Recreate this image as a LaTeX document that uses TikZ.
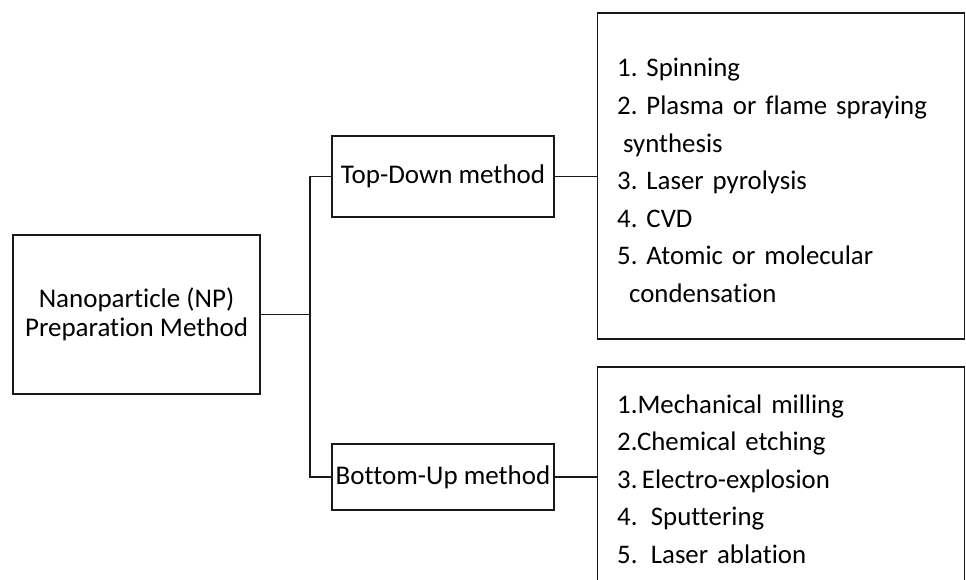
\documentclass[tikz,border=0pt]{standalone}
\usepackage{fontspec}
\setmainfont[Ligatures={NoCommon}]{Carlito}
\begin{document}
\frenchspacing
\begin{tikzpicture}[x=1pt,y=-1pt,
  box/.style={draw=black!90, line width=1.4pt, inner sep=0pt, font=\fontsize{27}{28.5}\selectfont, align=center},
  listbox/.style={draw=black!90, line width=1.4pt, inner sep=0pt, minimum width=367pt},
  listtext/.style={inner sep=0pt, text width=330pt, align=left, anchor=base west, font=\frenchspacing\fontsize{26.8}{37.6}\selectfont},
  link/.style={draw=black!90, line width=1.4pt}]
\useasboundingbox (0,0) rectangle (966,580);
\node[box, minimum width=247pt, minimum height=159pt] (np) at (136.5,314.5) {Nanoparticle (NP)\\Preparation Method};
\node[box, minimum width=222pt, minimum height=81pt] (td) at (443,176.5) {Top-Down method};
\node[box, minimum width=222pt, minimum height=66pt] (bu) at (443,477) {Bottom-Up method};
\node[listbox, minimum height=326pt] (tl) at (781,176) {};
\node[listbox, minimum height=234pt] (bl) at (781,484) {};
\node[listtext] (tlt) at (617,77) {1. Spinning\\2. Plasma or flame spraying\\\hspace*{6pt}synthesis\\3. Laser pyrolysis\\4. CVD\\5. Atomic or molecular\\\hspace*{12pt}condensation};
\node[listtext] (blt) at (617,413) {1.Mechanical milling\\2.Chemical etching\\3.\,Electro-explosion\\4.\ \,Sputtering\\5.\ \,Laser ablation};
\coordinate (j) at (310,314.5);
\draw[link] (np.east) -- (j);
\draw[link] (td.west) -| (j);
\draw[link] (bu.west) -| (j);
\draw[link] (td.east) -- (td.east -| tl.west);
\draw[link] (bu.east) -- (bu.east -| bl.west);
\end{tikzpicture}
\end{document}
